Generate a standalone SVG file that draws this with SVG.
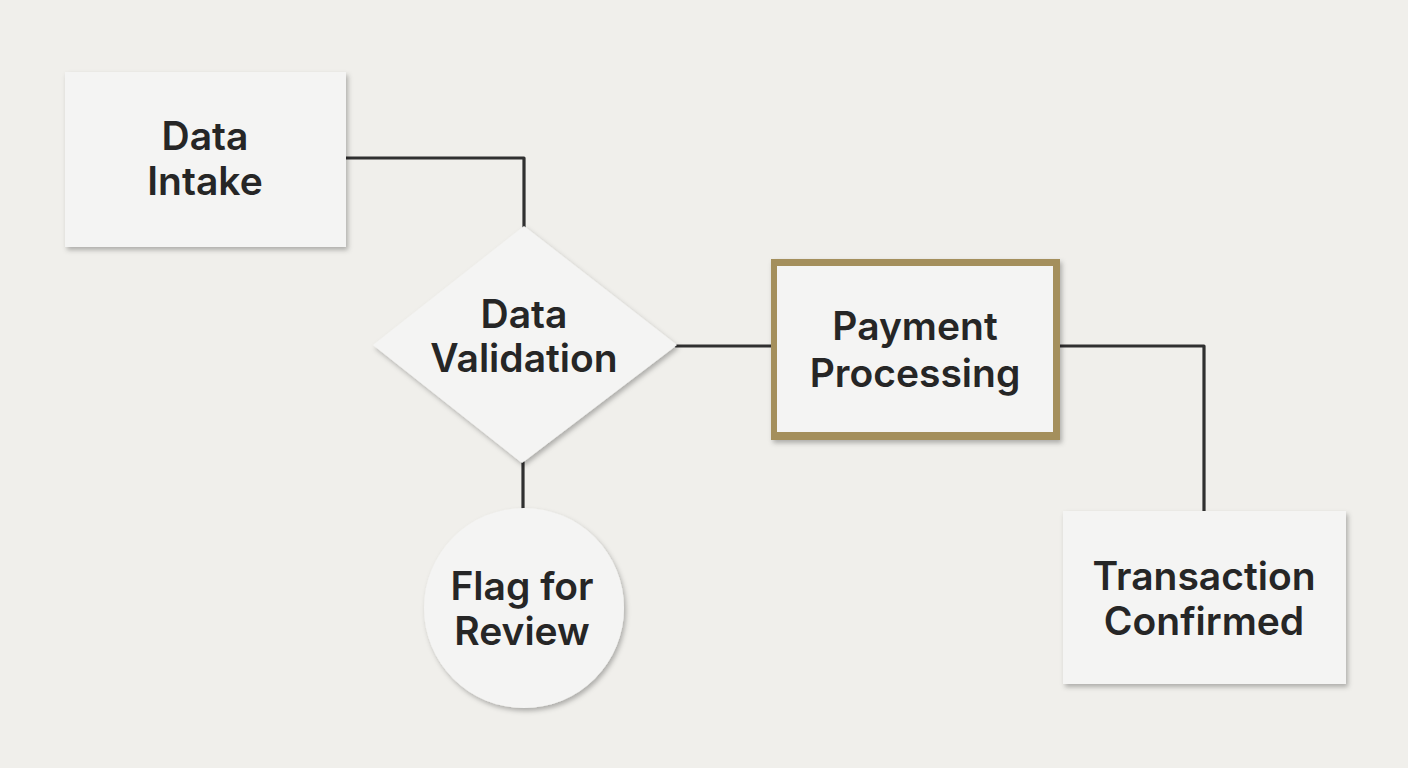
<svg xmlns="http://www.w3.org/2000/svg" width="1408" height="768" viewBox="0 0 1408 768">
<defs>
<filter id="sh" x="-10%" y="-10%" width="125%" height="130%">
<feDropShadow dx="2" dy="3" stdDeviation="2.5" flood-color="#000" flood-opacity="0.28"/>
</filter>
<style>
.card{fill:#f4f4f3;filter:url(#sh);}
.lbl{font-family:Inter,"Liberation Sans",sans-serif;font-weight:600;font-size:39px;fill:#262626;text-anchor:middle;}
.wire{fill:none;stroke:#303030;stroke-width:3.2;stroke-linejoin:round;stroke-linecap:round;}
</style>
</defs>
<rect width="1408" height="768" fill="#f0efeb"/>
<g id="connectors">
<path class="wire" d="M346 158 H524 V227"/>
<path class="wire" d="M676 346 H772"/>
<path class="wire" d="M1060 346 H1204 V511"/>
<path class="wire" d="M523 462 V508"/>
</g>
<g id="data-intake">
<rect class="card" x="65" y="72" width="281" height="175"/>
<text class="lbl" x="205" y="150">Data</text>
<text class="lbl" x="205" y="195">Intake</text>
</g>
<g id="data-validation">
<polygon class="card" points="524,226 677,345 522,463 373,345"/>
<text class="lbl" x="524" y="328">Data</text>
<text class="lbl" x="524" y="372">Validation</text>
</g>
<g id="payment-processing">
<rect x="771" y="259" width="289" height="181" fill="#a48f5c" filter="url(#sh)"/>
<rect x="777" y="266" width="276" height="166" fill="#f4f4f3"/>
<text class="lbl" x="915" y="340">Payment</text>
<text class="lbl" x="915" y="387">Processing</text>
</g>
<g id="flag-for-review">
<circle class="card" cx="524" cy="608" r="100"/>
<text class="lbl" x="522" y="600">Flag for</text>
<text class="lbl" x="522" y="645">Review</text>
</g>
<g id="transaction-confirmed">
<rect class="card" x="1063" y="511" width="283" height="173"/>
<text class="lbl" x="1204" y="590">Transaction</text>
<text class="lbl" x="1204" y="635">Confirmed</text>
</g>
</svg>
